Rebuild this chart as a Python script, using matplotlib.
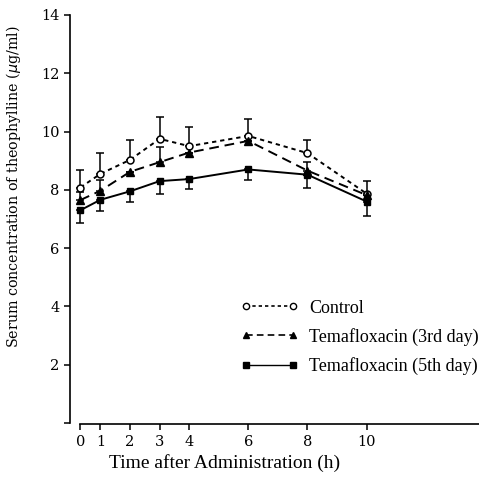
import matplotlib
matplotlib.use("Agg")
import matplotlib.pyplot as plt
from matplotlib.lines import Line2D
import numpy as np

# время после введения (ч)
time_h = [0, 1, 2, 3, 4, 6, 8, 10]

control = [8.08, 8.55, 9.03, 9.75, 9.5, 9.85, 9.26, 7.87]
control_err = [0.6, 0.72, 0.67, 0.76, 0.65, 0.57, 0.46, 0.45]

day3 = [7.65, 7.97, 8.62, 8.95, 9.28, 9.68, 8.66, 7.82]
day3_err = [0.28, 0.38, 0.0, 0.52, 0.0, 0.0, 0.3, 0.0]

day5 = [7.3, 7.66, 7.95, 8.3, 8.37, 8.7, 8.52, 7.6]
day5_err = [0.43, 0.4, 0.36, 0.45, 0.35, 0.35, 0.47, 0.5]

xticks = [0, 1, 2, 3, 4, 6, 8, 10]
yticks = [0, 2, 4, 6, 8, 10, 12, 14]
ytick_labels = ["", "2", "4", "6", "8", "10", "12", "14"]

labels = ["Control", "Temafloxacin (3rd day)", "Temafloxacin (5th day)"]


def fwd(t):
    t = np.asarray(t, dtype=float)
    return np.where(t < 1, 0.32 + 0.68 * t, t)


def inv(u):
    u = np.asarray(u, dtype=float)
    return np.where(u < 1, (u - 0.32) / 0.68, u)


fig = plt.figure(figsize=(4.79, 4.92), dpi=100)
ax = fig.add_axes([70 / 479, 69 / 492, 409 / 479, 408 / 492])
ax.set_xscale("function", functions=(fwd, inv))

lw = 1.4
ax.errorbar(time_h, control, yerr=[np.zeros(len(control)), control_err],
            fmt="o", color="black", mfc="white", mec="black", ms=5, mew=1.1,
            elinewidth=1.1, capsize=3, capthick=1.1, zorder=4)
ax.plot(time_h, control, color="black", lw=lw, ls=(0, (2.2, 2.0)), zorder=3)

ax.errorbar(time_h, day3, yerr=[np.zeros(len(day3)), day3_err],
            fmt="^", color="black", ms=6, elinewidth=1.1, capsize=3,
            capthick=1.1, zorder=4)
ax.plot(time_h, day3, color="black", lw=lw, ls=(0, (5, 3)), zorder=3)

ax.errorbar(time_h, day5, yerr=[day5_err, np.zeros(len(day5))],
            fmt="s", color="black", ms=5, elinewidth=1.1, capsize=3,
            capthick=1.1, zorder=4)
ax.plot(time_h, day5, color="black", lw=lw, ls="-", zorder=3)

ax.set_xlim(-0.515, 13.8)
ax.set_ylim(0, 14)
ax.set_xticks(xticks)
ax.set_xticklabels([str(x) for x in xticks])
ax.set_yticks(yticks)
ax.set_yticklabels(ytick_labels)
ax.minorticks_off()

for s in ["top", "right"]:
    ax.spines[s].set_visible(False)
ax.spines["bottom"].set_bounds(0, 13.8)
ax.spines["bottom"].set_position(("outward", 1))
ax.spines["left"].set_linewidth(1.2)
ax.spines["bottom"].set_linewidth(1.2)
ax.tick_params(direction="out", length=4, width=1.1, colors="black")
ax.tick_params(axis="both", labelsize=10.5)
for lab in ax.get_xticklabels() + ax.get_yticklabels():
    lab.set_family("DejaVu Serif")

ax.set_ylabel("Serum concentration of theophylline ($\\mu$g/ml)",
              family="DejaVu Serif", fontsize=10.3)
ax.yaxis.set_label_coords(-0.115, 0.58)
ax.set_xlabel("Time after Administration (h)", family="Liberation Serif",
              fontsize=14)
ax.xaxis.set_label_coords(0.379, -0.075)

handles = [
    Line2D([], [], color="black", lw=1.2, ls=(0, (2, 1.8)), marker="o",
           mfc="white", ms=4.5),
    Line2D([], [], color="black", lw=1.2, ls=(0, (4, 2.5)), marker="^", ms=5),
    Line2D([], [], color="black", lw=1.0, ls="-", marker="s", ms=4),
]
leg = ax.legend(handles, labels, loc="upper left", bbox_to_anchor=(0.4, 0.32),
                frameon=False, handlelength=3.2, handletextpad=0.6,
                labelspacing=0.62, markerfirst=True, numpoints=2,
                borderaxespad=0.0,
                prop={"family": "Liberation Serif", "size": 13})

fig.savefig("out.png", dpi=100)
